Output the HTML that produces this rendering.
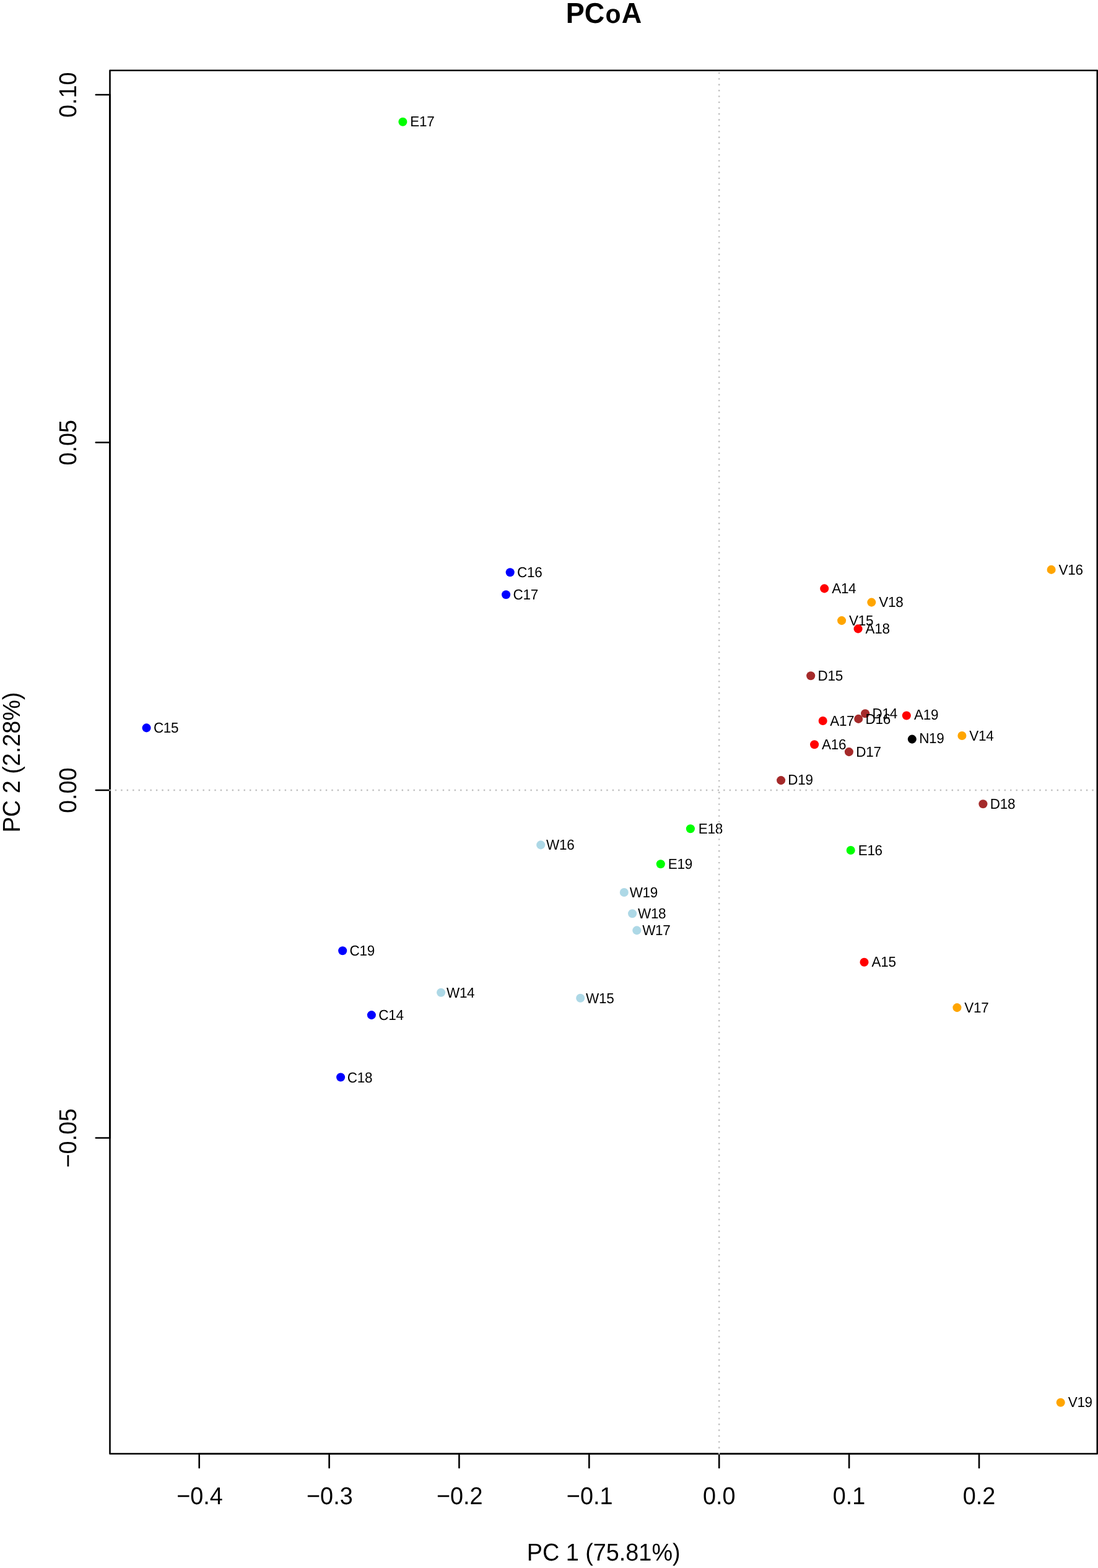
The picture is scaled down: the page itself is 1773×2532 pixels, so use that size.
<!DOCTYPE html>
<html lang="en">
<head>
<meta charset="utf-8">
<title>PCoA</title>
<style>
html,body{margin:0;padding:0;background:#fff;}
body{width:1773px;height:2532px;overflow:hidden;}
svg{display:block;}
text{font-family:"Liberation Sans",sans-serif;fill:#000;text-rendering:geometricPrecision;}
.ax{font-size:37.79px;}
.lb{font-size:22.5px;text-anchor:middle;letter-spacing:-0.28px;}
.tt{font-size:45px;font-weight:bold;text-anchor:middle;}
.ln{stroke:#000;stroke-width:2.6;fill:none;stroke-linecap:round;stroke-linejoin:round;}
.dt{stroke:#bebebe;stroke-width:2.36;fill:none;stroke-dasharray:2.3616 7.0849;}
</style>
</head>
<body>
<svg width="1773" height="2532" viewBox="0 0 1773 2532">
<rect x="0" y="0" width="1773" height="2532" fill="#ffffff"/>
<text class="tt" transform="translate(975.05 37.00) scale(1 1.03)">PC<tspan font-size="41" dx="1.2">o</tspan><tspan dx="1.2">A</tspan></text>
<circle cx="1331.20" cy="950.40" r="7.03" fill="#ff0000"/><text class="lb" transform="translate(1362.75 958.40) scale(1 1.042)">A14</text>
<circle cx="1397.10" cy="1152.20" r="7.03" fill="#a52a2a"/><text class="lb" transform="translate(1428.65 1160.20) scale(1 1.042)">D14</text>
<circle cx="1553.40" cy="1187.95" r="7.03" fill="#ffa500"/><text class="lb" transform="translate(1584.95 1195.95) scale(1 1.042)">V14</text>
<circle cx="712.10" cy="1602.70" r="7.03" fill="#add8e6"/><text class="lb" transform="translate(743.65 1610.70) scale(1 1.042)">W14</text>
<circle cx="599.90" cy="1639.10" r="7.03" fill="#0000ff"/><text class="lb" transform="translate(631.45 1647.10) scale(1 1.042)">C14</text>
<circle cx="236.55" cy="1175.40" r="7.03" fill="#0000ff"/><text class="lb" transform="translate(268.10 1183.40) scale(1 1.042)">C15</text>
<circle cx="1359.10" cy="1002.10" r="7.03" fill="#ffa500"/><text class="lb" transform="translate(1390.65 1010.10) scale(1 1.042)">V15</text>
<circle cx="1309.20" cy="1091.20" r="7.03" fill="#a52a2a"/><text class="lb" transform="translate(1340.75 1098.90) scale(1 1.042)">D15</text>
<circle cx="937.20" cy="1611.70" r="7.03" fill="#add8e6"/><text class="lb" transform="translate(968.75 1619.70) scale(1 1.042)">W15</text>
<circle cx="1395.50" cy="1553.70" r="7.03" fill="#ff0000"/><text class="lb" transform="translate(1427.05 1560.90) scale(1 1.042)">A15</text>
<circle cx="823.70" cy="924.20" r="7.03" fill="#0000ff"/><text class="lb" transform="translate(855.25 932.20) scale(1 1.042)">C16</text>
<circle cx="1697.60" cy="919.90" r="7.03" fill="#ffa500"/><text class="lb" transform="translate(1729.15 927.90) scale(1 1.042)">V16</text>
<circle cx="1386.20" cy="1160.90" r="7.03" fill="#a52a2a"/><text class="lb" transform="translate(1417.75 1168.90) scale(1 1.042)">D16</text>
<circle cx="1315.10" cy="1202.20" r="7.03" fill="#ff0000"/><text class="lb" transform="translate(1346.65 1210.20) scale(1 1.042)">A16</text>
<circle cx="1373.70" cy="1373.00" r="7.03" fill="#00ff00"/><text class="lb" transform="translate(1405.25 1381.00) scale(1 1.042)">E16</text>
<circle cx="873.20" cy="1364.40" r="7.03" fill="#add8e6"/><text class="lb" transform="translate(904.75 1372.40) scale(1 1.042)">W16</text>
<circle cx="650.40" cy="196.70" r="7.03" fill="#00ff00"/><text class="lb" transform="translate(681.80 203.55) scale(1 1.042)">E17</text>
<circle cx="817.10" cy="960.30" r="7.03" fill="#0000ff"/><text class="lb" transform="translate(848.65 968.30) scale(1 1.042)">C17</text>
<circle cx="1328.70" cy="1164.00" r="7.03" fill="#ff0000"/><text class="lb" transform="translate(1359.75 1171.90) scale(1 1.042)">A17</text>
<circle cx="1370.90" cy="1214.10" r="7.03" fill="#a52a2a"/><text class="lb" transform="translate(1402.45 1222.10) scale(1 1.042)">D17</text>
<circle cx="1028.30" cy="1502.40" r="7.03" fill="#add8e6"/><text class="lb" transform="translate(1059.85 1510.40) scale(1 1.042)">W17</text>
<circle cx="1545.40" cy="1627.10" r="7.03" fill="#ffa500"/><text class="lb" transform="translate(1576.95 1635.10) scale(1 1.042)">V17</text>
<circle cx="1407.30" cy="972.60" r="7.03" fill="#ffa500"/><text class="lb" transform="translate(1438.85 980.00) scale(1 1.042)">V18</text>
<circle cx="1385.60" cy="1015.40" r="7.03" fill="#ff0000"/><text class="lb" transform="translate(1417.15 1023.40) scale(1 1.042)">A18</text>
<circle cx="1587.40" cy="1298.30" r="7.03" fill="#a52a2a"/><text class="lb" transform="translate(1618.95 1305.80) scale(1 1.042)">D18</text>
<circle cx="1114.90" cy="1338.30" r="7.03" fill="#00ff00"/><text class="lb" transform="translate(1147.35 1346.30) scale(1 1.042)">E18</text>
<circle cx="1021.10" cy="1475.20" r="7.03" fill="#add8e6"/><text class="lb" transform="translate(1052.65 1483.20) scale(1 1.042)">W18</text>
<circle cx="550.10" cy="1739.50" r="7.03" fill="#0000ff"/><text class="lb" transform="translate(581.05 1747.50) scale(1 1.042)">C18</text>
<circle cx="1463.80" cy="1155.50" r="7.03" fill="#ff0000"/><text class="lb" transform="translate(1495.65 1162.40) scale(1 1.042)">A19</text>
<circle cx="1472.80" cy="1193.60" r="7.03" fill="#000000"/><text class="lb" transform="translate(1504.35 1200.40) scale(1 1.042)">N19</text>
<circle cx="1261.10" cy="1260.10" r="7.03" fill="#a52a2a"/><text class="lb" transform="translate(1292.45 1267.30) scale(1 1.042)">D19</text>
<circle cx="1066.80" cy="1395.20" r="7.03" fill="#00ff00"/><text class="lb" transform="translate(1098.35 1403.20) scale(1 1.042)">E19</text>
<circle cx="1007.80" cy="1441.00" r="7.03" fill="#add8e6"/><text class="lb" transform="translate(1039.35 1449.00) scale(1 1.042)">W19</text>
<circle cx="553.20" cy="1535.20" r="7.03" fill="#0000ff"/><text class="lb" transform="translate(584.75 1543.20) scale(1 1.042)">C19</text>
<circle cx="1712.70" cy="2264.70" r="7.03" fill="#ffa500"/><text class="lb" transform="translate(1744.25 2271.87) scale(1 1.042)">V19</text>
<rect class="ln" x="177.5" y="113.7" width="1594.3" height="2233.8"/>
<line class="ln" x1="321.7" y1="2347.4" x2="1581.0" y2="2347.4"/>
<line class="ln" x1="321.7" y1="2347.4" x2="321.7" y2="2370.1"/>
<text class="ax" text-anchor="middle" transform="translate(322.46 2428.70) scale(1 1.042)">−0.4</text>
<line class="ln" x1="531.6" y1="2347.4" x2="531.6" y2="2370.1"/>
<text class="ax" text-anchor="middle" transform="translate(532.35 2428.70) scale(1 1.042)">−0.3</text>
<line class="ln" x1="741.4" y1="2347.4" x2="741.4" y2="2370.1"/>
<text class="ax" text-anchor="middle" transform="translate(742.24 2428.70) scale(1 1.042)">−0.2</text>
<line class="ln" x1="951.3" y1="2347.4" x2="951.3" y2="2370.1"/>
<text class="ax" text-anchor="middle" transform="translate(952.13 2428.70) scale(1 1.042)">−0.1</text>
<line class="ln" x1="1161.2" y1="2347.4" x2="1161.2" y2="2370.1"/>
<text class="ax" text-anchor="middle" transform="translate(1161.22 2428.70) scale(1 1.042)">0.0</text>
<line class="ln" x1="1371.1" y1="2347.4" x2="1371.1" y2="2370.1"/>
<text class="ax" text-anchor="middle" transform="translate(1371.11 2428.70) scale(1 1.042)">0.1</text>
<line class="ln" x1="1581.0" y1="2347.4" x2="1581.0" y2="2370.1"/>
<text class="ax" text-anchor="middle" transform="translate(1581.00 2428.70) scale(1 1.042)">0.2</text>
<text class="ax" text-anchor="middle" transform="translate(974.65 2519.70) scale(1 1.042)">PC 1 (75.81%)</text>
<line class="ln" x1="177.5" y1="1837.5" x2="177.5" y2="153.0"/>
<line class="ln" x1="177.5" y1="153.0" x2="154.8" y2="153.0"/>
<text class="ax" text-anchor="middle" transform="translate(122.70 153.30) rotate(-90) scale(1 1.042)">0.10</text>
<line class="ln" x1="177.5" y1="714.5" x2="154.8" y2="714.5"/>
<text class="ax" text-anchor="middle" transform="translate(122.70 714.80) rotate(-90) scale(1 1.042)">0.05</text>
<line class="ln" x1="177.5" y1="1276.0" x2="154.8" y2="1276.0"/>
<text class="ax" text-anchor="middle" transform="translate(122.70 1276.30) rotate(-90) scale(1 1.042)">0.00</text>
<line class="ln" x1="177.5" y1="1837.5" x2="154.8" y2="1837.5"/>
<text class="ax" text-anchor="middle" transform="translate(122.70 1837.80) rotate(-90) scale(1 1.042)">−0.05</text>
<text class="ax" text-anchor="middle" transform="translate(32.00 1230.95) rotate(-90) scale(1 1.042)">PC 2 (2.28%)</text>
<line class="dt" x1="176.32" y1="1276.05" x2="1771.80" y2="1276.05"/>
<line class="dt" x1="1161.22" y1="2348.43" x2="1161.22" y2="113.65"/>
</svg>
</body>
</html>
